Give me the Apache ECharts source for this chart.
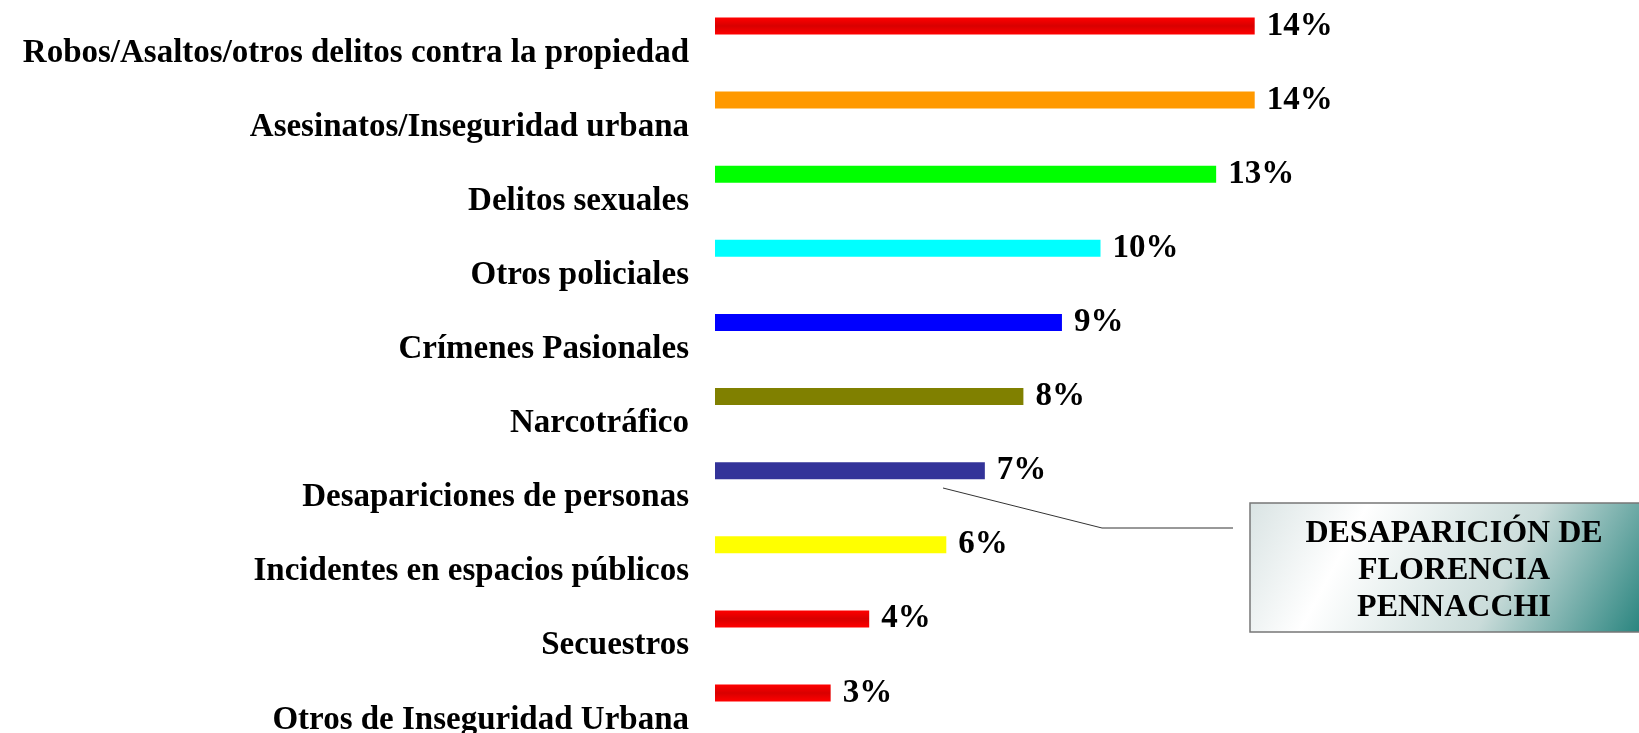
<!DOCTYPE html>
<html lang="es">
<head>
    <meta charset="UTF-8">
    <title>Inseguridad</title>
    <script src="https://cdn.jsdelivr.net/npm/echarts@6/dist/echarts.min.js"></script>
    <style>
        html, body { margin: 0; padding: 0; background: #fff; }
        #chart { width: 1639px; height: 733px; }
    </style>
</head>
<body>
<div id="chart"></div>
<script>
    var categories = [
        'Robos/Asaltos/otros delitos contra la propiedad',
        'Asesinatos/Inseguridad urbana',
        'Delitos sexuales',
        'Otros policiales',
        'Crímenes Pasionales',
        'Narcotráfico',
        'Desapariciones de personas',
        'Incidentes en espacios públicos',
        'Secuestros',
        'Otros de Inseguridad Urbana'
    ];
    var values = [14, 14, 13, 10, 9, 8, 7, 6, 4, 3];
    var barColors = ['#ff0000', '#ff9900', '#00ff00', '#00ffff', '#0000ff',
        '#808000', '#333399', '#ffff00', '#ff0000', '#ff0000'];
    var calloutText = 'DESAPARICIÓN DE\nFLORENCIA\nPENNACCHI';

    var serif = '"Liberation Serif", "Times New Roman", serif';

    // las barras rojas tienen un sombreado más oscuro en el centro
    function barFill(c) {
        if (c !== '#ff0000') return c;
        return new echarts.graphic.LinearGradient(0, 0, 0, 1, [
            {offset: 0, color: '#ff0000'},
            {offset: 0.5, color: '#d80000'},
            {offset: 1, color: '#ff0000'}
        ]);
    }

    var chart = echarts.init(document.getElementById('chart'));

    var option = {
        animation: false,
        grid: {left: 715, right: 153, top: 26, bottom: 40, outerBoundsMode: 'none', containLabel: false},
        xAxis: {
            type: 'value',
            min: 0,
            max: 20,
            show: false
        },
        yAxis: {
            type: 'category',
            data: categories,
            inverse: true,
            boundaryGap: false,
            axisLine: {show: false},
            axisTick: {show: false},
            axisLabel: {
                margin: 26,
                interval: 0,
                showMinLabel: true,
                showMaxLabel: true,
                hideOverlap: false,
                // el texto va por debajo de su barra: una línea vacía arriba
                formatter: function (v) {
                    return '{gap| }\n{t|' + v + '}';
                },
                rich: {
                    gap: {height: 54, lineHeight: 54, fontSize: 10},
                    t: {
                        color: '#000',
                        fontFamily: serif,
                        fontWeight: 'bold',
                        fontSize: 33,
                        lineHeight: 36
                    }
                }
            }
        },
        series: [{
            type: 'bar',
            barWidth: 17,
            data: values.map(function (v, i) {
                return {value: v, itemStyle: {color: barFill(barColors[i])}};
            }),
            label: {
                show: true,
                position: 'right',
                distance: 12,
                formatter: '{c}%',
                color: '#000',
                fontFamily: serif,
                fontWeight: 'bold',
                fontSize: 33
            }
        }],
        graphic: [
            {
                type: 'polyline',
                shape: {points: [[943, 488], [1102, 528], [1233, 528]]},
                style: {stroke: '#333', lineWidth: 1, fill: null}
            },
            {
                type: 'rect',
                shape: {x: 1250, y: 503, width: 400, height: 129},
                style: {
                    fill: new echarts.graphic.LinearGradient(1230, 480, 1620, 690, [
                        {offset: 0, color: '#cfdcdc'},
                        {offset: 0.3, color: '#ffffff'},
                        {offset: 0.65, color: '#cadcda'},
                        {offset: 1, color: '#1f7f79'}
                    ], true),
                    stroke: '#777',
                    lineWidth: 1.5
                }
            },
            {
                type: 'text',
                x: 1454,
                y: 571,
                style: {
                    text: calloutText,
                    align: 'center',
                    verticalAlign: 'middle',
                    lineHeight: 37,
                    fill: '#000',
                    font: 'bold 32px ' + serif
                }
            }
        ]
    };

    chart.setOption(option);
</script>
</body>
</html>
